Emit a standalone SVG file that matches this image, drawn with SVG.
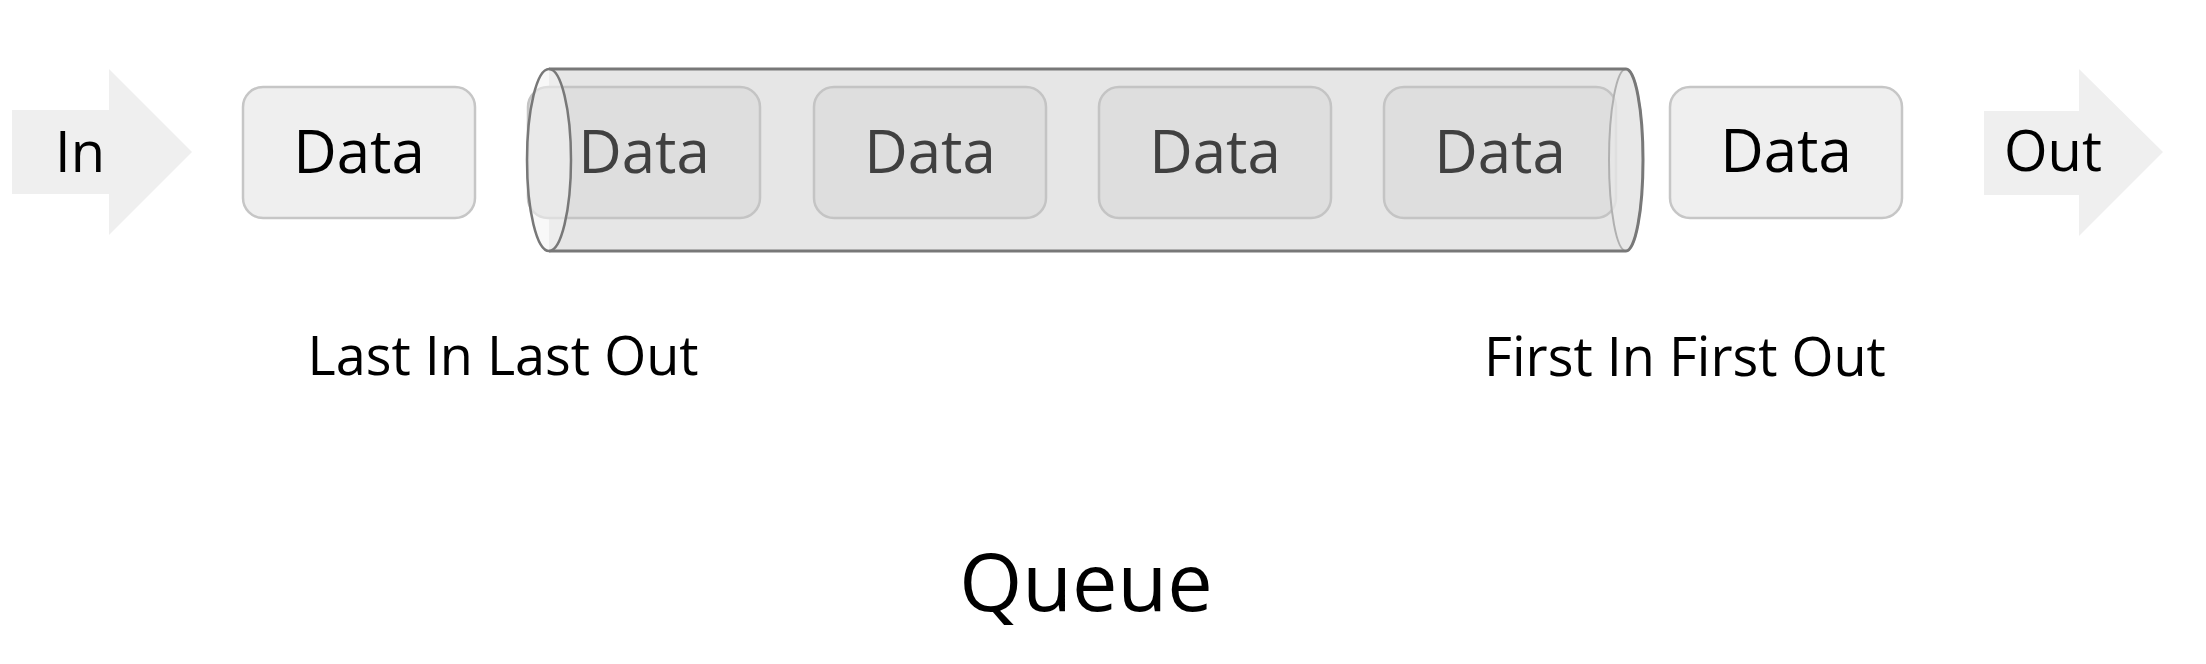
<svg xmlns="http://www.w3.org/2000/svg" width="2206" height="664" viewBox="0 0 2206 664">
<style>
text { font-family: "Open Sans", "Noto Sans", "Liberation Sans", sans-serif; text-anchor: middle; font-weight: 500; }
.arrow { fill: #efefef; }
.lbl { font-size: 56px; fill: #000; }
.box { fill: #efefef; stroke: #c6c6c6; stroke-width: 2.5; }
.ibox { fill: #dedede; stroke: #c4c4c4; stroke-width: 2.5; }
.dt { font-size: 60px; fill: #000; }
.idt { font-size: 60px; fill: #404040; }
.cap { font-size: 54px; fill: #000; }
.title { font-size: 81px; fill: #000; }
.edge { fill: none; stroke: #787878; stroke-width: 3; }
</style>
<g id="in-arrow">
<polygon class="arrow" points="12,110 109,110 109,69 192,152 109,235 109,194 12,194"/>
<text class="lbl" x="80" y="172">In</text>
</g>
<g id="data-in">
<rect class="box" x="243" y="87" width="232" height="131" rx="20"/>
<text class="dt" x="359" y="173">Data</text>
</g>
<g id="queue-tube">
<rect x="549" y="69" width="1077" height="182" fill="#e6e6e6"/>
<ellipse cx="1626" cy="160" rx="17" ry="91" fill="#e6e6e6"/>
<g id="data-q1">
<rect class="ibox" x="528" y="87" width="232" height="131" rx="20"/>
<text class="idt" x="644" y="173">Data</text>
</g>
<g id="data-q2">
<rect class="ibox" x="814" y="87" width="232" height="131" rx="20"/>
<text class="idt" x="930" y="173">Data</text>
</g>
<g id="data-q3">
<rect class="ibox" x="1099" y="87" width="232" height="131" rx="20"/>
<text class="idt" x="1215" y="173">Data</text>
</g>
<g id="data-q4">
<rect class="ibox" x="1384" y="87" width="232" height="131" rx="20"/>
<text class="idt" x="1500" y="173">Data</text>
</g>
<ellipse cx="1626" cy="160" rx="17" ry="91" fill="#e8e8e8" fill-opacity="0.75" stroke="#b0b0b0" stroke-width="2"/>
<path class="edge" d="M549,69 L1626,69 A17,91 0 0 1 1626,251 L549,251"/>
<ellipse cx="549" cy="160" rx="22" ry="91" fill="#f2f2f2" fill-opacity="0.55" stroke="#787878" stroke-width="2.5"/>
</g>
<g id="data-out">
<rect class="box" x="1670" y="87" width="232" height="131" rx="20"/>
<text class="dt" x="1786" y="172">Data</text>
</g>
<g id="out-arrow">
<polygon class="arrow" points="1984,111 2079,111 2079,69 2163,152 2079,236 2079,195 1984,195"/>
<text class="lbl" x="2053" y="171">Out</text>
</g>
<g id="connectors"></g>
<text class="cap" x="503" y="375">Last In Last Out</text>
<text class="cap" x="1685" y="376">First In First Out</text>
<text class="title" x="1086" y="611">Queue</text>
</svg>
